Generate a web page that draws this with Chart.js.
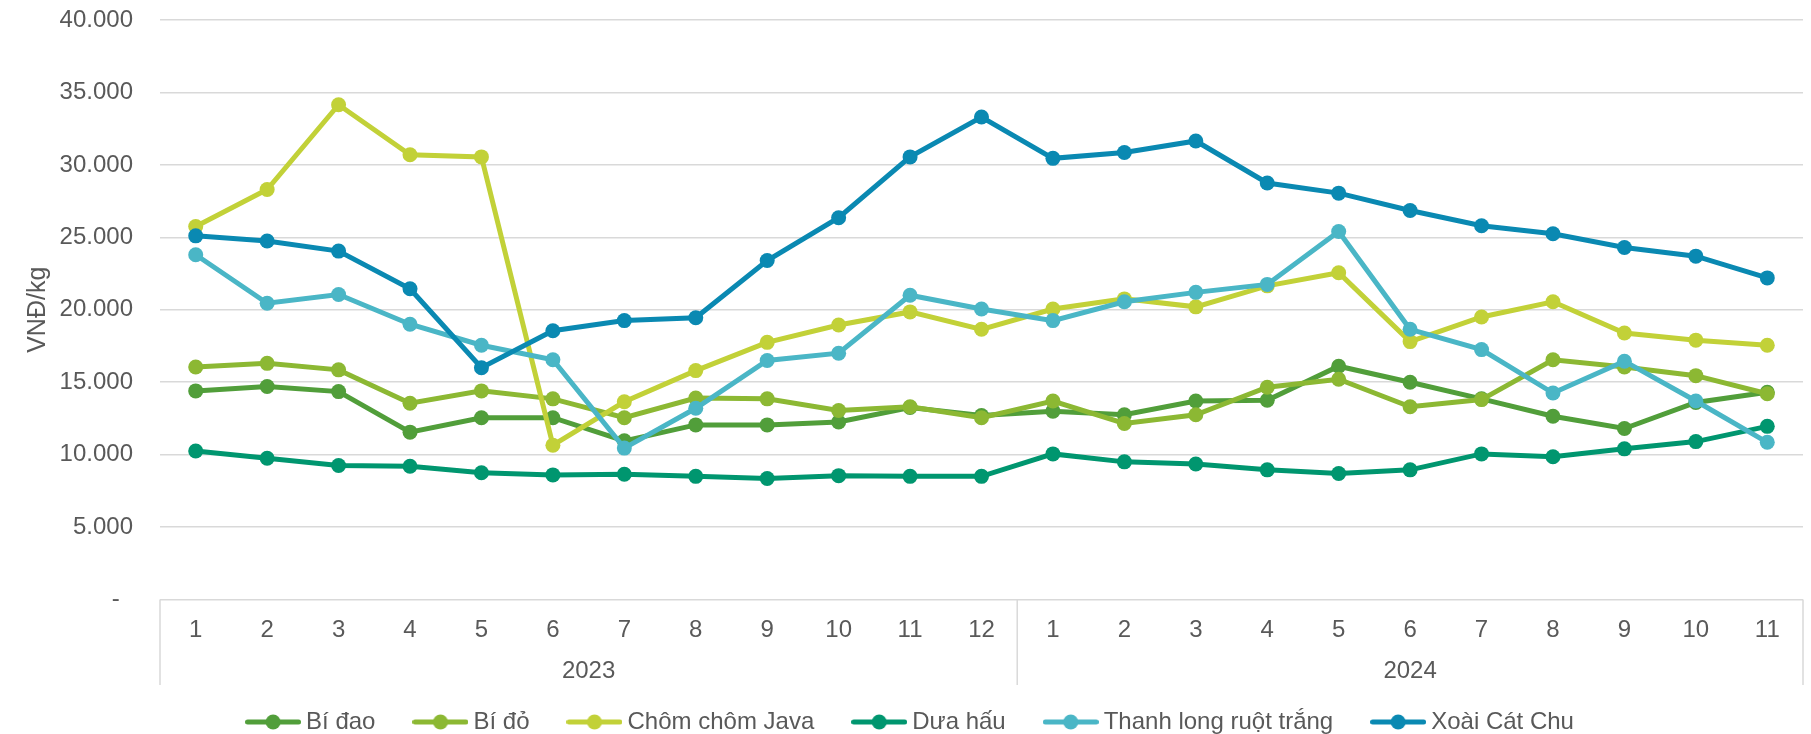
<!DOCTYPE html>
<html>
<head>
<meta charset="utf-8">
<script src="https://cdn.jsdelivr.net/npm/chart.js@4.4.1/dist/chart.umd.min.js"></script>
<style>
  body { margin: 0; background: #fff; }
</style>
</head>
<body>
<canvas id="myChart" width="1811" height="734"></canvas>
<script>
"use strict";

// months on the axis, grouped by year
const months = [1, 2, 3, 4, 5, 6, 7, 8, 9, 10, 11, 12, 1, 2, 3, 4, 5, 6, 7, 8, 9, 10, 11];
const years = ["2023", "2024"];
const monthsPerYear = [12, 11];

const seriesNames = ["Bí đao", "Bí đỏ", "Chôm chôm Java", "Dưa hấu", "Thanh long ruột trắng", "Xoài Cát Chu"];

const biDao = [14400, 14700, 14350, 11550, 12550, 12550, 10950, 12050, 12050, 12250, 13250, 12700,
  13000, 12750, 13700, 13750, 16100, 15000, 13850, 12650, 11800, 13600, 14300];
const biDo = [16050, 16300, 15850, 13550, 14400, 13850, 12550, 13900, 13850, 13050, 13300, 12550,
  13700, 12150, 12750, 14650, 15200, 13300, 13800, 16550, 16050, 15450, 14200];
const chomChomJava = [25750, 28300, 34150, 30700, 30550, 10650, 13650, 15800, 17750, 18950, 19850, 18650,
  20050, 20750, 20200, 21650, 22550, 17800, 19500, 20550, 18400, 17900, 17550];
const duaHau = [10250, 9750, 9250, 9200, 8750, 8600, 8650, 8500, 8350, 8550, 8500, 8500,
  10050, 9500, 9350, 8950, 8700, 8950, 10050, 9850, 10400, 10900, 11950];
const thanhLong = [23800, 20450, 21050, 19000, 17550, 16550, 10450, 13200, 16500, 17000, 21000, 20050,
  19250, 20550, 21200, 21750, 25400, 18650, 17250, 14250, 16450, 13700, 10850];
const xoaiCatChu = [25100, 24750, 24050, 21450, 16000, 18550, 19250, 19450, 23400, 26350, 30550, 33300,
  30450, 30850, 31650, 28750, 28050, 26850, 25800, 25250, 24300, 23700, 22200];

const seriesValues = [biDao, biDo, chomChomJava, duaHau, thanhLong, xoaiCatChu];
const colors = ["#519e3a", "#8cb833", "#c2d138", "#00966f", "#4ab6c6", "#0a89b2"];

const textGrey = "#595959";
const gridGrey = "#d9d9d9";
const fontFamily = "'Liberation Sans', Arial, sans-serif";

// legend marker: short line with a dot in the middle
function makeMarker(color) {
  let c = document.createElement("canvas");
  c.width = 56;
  c.height = 16;
  let ctx = c.getContext("2d");
  ctx.strokeStyle = color;
  ctx.lineWidth = 5;
  ctx.lineCap = "round";
  ctx.beginPath();
  ctx.moveTo(2.5, 8);
  ctx.lineTo(53.5, 8);
  ctx.stroke();
  ctx.fillStyle = color;
  ctx.beginPath();
  ctx.arc(28, 8, 7.5, 0, Math.PI * 2);
  ctx.fill();
  return c;
}
const markers = colors.map(makeMarker);

const datasets = [];
for (let i = 0; i < seriesNames.length; i++) {
  datasets.push({
    label: seriesNames[i],
    data: seriesValues[i],
    borderColor: colors[i],
    backgroundColor: colors[i],
    borderWidth: 5,
    pointRadius: 7.5,
    pointBorderWidth: 0,
    pointBackgroundColor: colors[i],
    order: seriesNames.length - i
  });
}

// year row under the month labels, with separators
const yearRow = {
  id: "yearRow",
  afterDraw(chart) {
    const x = chart.scales.x;
    const ctx = chart.ctx;
    const top = x.top;
    const bottom = 685;
    ctx.save();
    ctx.strokeStyle = gridGrey;
    ctx.lineWidth = 1.5;
    ctx.fillStyle = textGrey;
    ctx.font = "24px " + fontFamily;
    ctx.textAlign = "center";
    ctx.textBaseline = "middle";
    let start = -0.5;
    for (let i = 0; i < years.length; i++) {
      let end = start + monthsPerYear[i];
      let px = x.getPixelForValue(start);
      ctx.beginPath();
      ctx.moveTo(px, top);
      ctx.lineTo(px, bottom);
      ctx.stroke();
      ctx.fillText(years[i], x.getPixelForValue((start + end) / 2), 671);
      start = end;
    }
    let last = x.getPixelForValue(start);
    ctx.beginPath();
    ctx.moveTo(last, top);
    ctx.lineTo(last, bottom);
    ctx.stroke();
    ctx.restore();
  }
};

// keep the legend lower than its padding would put it
const legendHeight = {
  id: "legendHeight",
  beforeInit(chart) {
    const fit = chart.legend.fit;
    chart.legend.fit = function () {
      fit.bind(chart.legend)();
      this.height = 68;
    };
  }
};

const config = {
  type: "line",
  data: {
    labels: months,
    datasets: datasets
  },
  options: {
    responsive: false,
    animation: false,
    layout: { padding: { left: 23, right: 8, top: 20, bottom: 0 } },
    scales: {
      x: {
        offset: true,
        grid: { display: false, drawTicks: false },
        border: { display: false },
        ticks: {
          color: textGrey,
          font: { size: 24, family: fontFamily },
          padding: 16,
          maxRotation: 0,
          autoSkip: false
        },
        afterFit(scale) { scale.height = 66.5; }
      },
      y: {
        min: 0,
        max: 40000,
        grid: { color: gridGrey, lineWidth: 1.5, drawTicks: false },
        border: { display: false },
        ticks: {
          stepSize: 5000,
          color: textGrey,
          font: { size: 24, family: fontFamily },
          padding: 27,
          callback: v => v === 0 ? "-  " : String(v).replace(/\B(?=(\d{3})+(?!\d))/g, ".")
        },
        title: {
          display: true,
          text: "VNĐ/kg",
          color: textGrey,
          font: { size: 25, family: fontFamily },
          padding: { top: 0, bottom: 0 }
        },
        afterFit(scale) {
          scale.width = 137;
          // the tick padding is only meant to push labels left, not down from the top
          scale.paddingTop = 0;
          scale.paddingBottom = 0;
        }
      }
    },
    plugins: {
      tooltip: { enabled: false },
      legend: {
        position: "bottom",
        labels: {
          usePointStyle: true,
          pointStyleWidth: 42,
          padding: 44,
          color: textGrey,
          font: { size: 24, family: fontFamily },
          sort: (a, b) => a.datasetIndex - b.datasetIndex,
          generateLabels(chart) {
            const items = Chart.defaults.plugins.legend.labels.generateLabels(chart);
            items.forEach(it => { it.pointStyle = markers[it.datasetIndex]; });
            return items;
          }
        }
      }
    }
  },
  plugins: [yearRow, legendHeight]
};

const myChart = new Chart(document.getElementById("myChart"), config);
</script>
</body>
</html>
